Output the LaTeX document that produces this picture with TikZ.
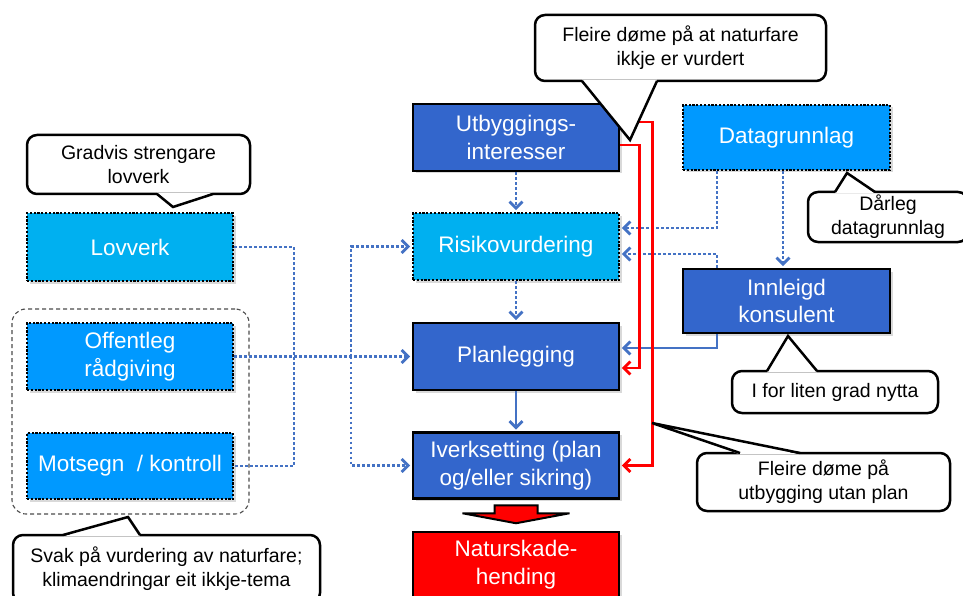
\documentclass[tikz,border=0pt]{standalone}
\usepackage{fontspec}
\setmainfont{Liberation Sans}
\usetikzlibrary{arrows.meta,shadows,calc}
\definecolor{dkblue}{HTML}{3366CC}
\definecolor{ltblue}{HTML}{00B0F0}
\definecolor{mdblue}{HTML}{0099FF}
\definecolor{conblue}{HTML}{4472C4}
\begin{document}
\begin{tikzpicture}[x=1pt,y=-1pt,
  box/.style={minimum width=206pt, minimum height=66pt, inner sep=2pt, text=white, align=center,
    font=\fontsize{22.5}{27.5}\selectfont,
    drop shadow={shadow xshift=2.5pt,shadow yshift=-2.5pt,opacity=0.3}},
  solidbox/.style={box, draw=black, line width=2.8pt},
  dotbox/.style={box, draw=black, line width=2.8pt, dash pattern=on 2.2pt off 1.6pt},
  call/.style={draw=black, fill=white, line width=2.5pt, rounded corners=10pt, align=center,
    font=\fontsize{19.5}{24}\selectfont, inner sep=2pt},
  ptrfill/.style={fill=white},
  ptrline/.style={draw=black, line width=2.5pt, line join=miter},
  con/.style={draw=conblue, line width=2.8pt, shorten >=1.5pt, -{Straight Barb[length=6.5pt,width=13pt]}},
  dotline/.style={draw=conblue, line width=2.8pt, dash pattern=on 2.5pt off 2.5pt},
  dotcon/.style={con, dash pattern=on 2.5pt off 2.5pt},
  redcon/.style={draw=red, line width=2.8pt, shorten >=1.5pt, -{Straight Barb[length=6.5pt,width=13pt]}},
  blockarrow/.style={draw=black, fill=red, line width=2pt, line join=miter}
]
\useasboundingbox (0,0) rectangle (963,596);

% group
\node[draw=black!70, line width=1.1pt, dash pattern=on 4pt off 3pt, rounded corners=14pt,
  minimum width=237pt, minimum height=205pt] (grp) at (130.5,411.5) {};

% boxes
\node[solidbox, fill=dkblue, minimum height=67pt] (ut) at (516,137.5) {Utbyggings-\\interesser};
\node[dotbox, fill=ltblue, minimum height=67pt] (risk) at (516,246.5) {Risikovurdering};
\node[solidbox, fill=dkblue, minimum height=67pt] (plan) at (516,356.5) {Planlegging};
\node[solidbox, fill=dkblue] (iver) at (516,465.5) {Iverksetting (plan\\og/eller sikring)};
\node[solidbox, fill=red, minimum height=65pt] (nat) at (516,564.5) {Naturskade-\\hending};
\node[dotbox, fill=mdblue, minimum width=207pt, minimum height=65pt] (data) at (786.5,137.5) {Datagrunnlag};
\node[solidbox, fill=dkblue, minimum width=207pt, minimum height=64pt] (inn) at (786.5,301) {Innleigd\\konsulent};
\node[dotbox, fill=ltblue, minimum height=68pt] (lov) at (130,247) {Lovverk};
\node[dotbox, fill=mdblue, minimum height=67pt] (off) at (130,356.5) {Offentleg\\rådgiving};
\node[dotbox, fill=mdblue] (mot) at (130,466) {Motsegn \ / kontroll};

% connectors
\draw[dotcon] (ut.south) -- (risk.north);
\draw[dotcon] (risk.south) -- (plan.north);
\draw[con] (plan.south) -- (iver.north);

\path (iver.south) -- (nat.north) coordinate[pos=0.5] (mid);
\begin{scope}[shift={(mid)}]
\draw[blockarrow] (-21.5,-10) -- (21.5,-10) -- (21.5,-2) -- (53.5,-2) -- (0,8) -- (-53.5,-2) -- (-21.5,-2) -- cycle;
\end{scope}

\coordinate (busA) at (294,356.5);
\coordinate (busB) at (351,356.5);
\draw[dotline] (lov.east) -| (busA) |- (mot.east);
\draw[dotcon] (off.east) -- (plan.west);
\draw[dotcon] (busB) |- (risk.west);
\draw[dotcon] (busB) |- (iver.west);

\draw[dotcon] ([xshift=-69.5pt]data.south) |- ([yshift=18.5pt]risk.east);
\draw[dotcon] ([xshift=-3.5pt]data.south) -- ([xshift=-3.5pt]inn.north);
\draw[dotcon] ([xshift=-69.5pt]inn.north) |- ([yshift=-7.5pt]risk.east);
\draw[con] ([xshift=-69.5pt]inn.south) |- ([yshift=8.5pt]plan.east);

\draw[redcon] ([yshift=-7.5pt]ut.east) -- ++(19,0) |- ([yshift=-11.5pt]plan.east);
\draw[redcon] ([yshift=15.5pt]ut.east) -- ++(32,0) |- (iver.east);

% callouts
\node[call, minimum width=291pt, minimum height=66pt] (c1) at (680.5,48) {Fleire døme på at naturfare\\ikkje er vurdert};
\fill[ptrfill] (582,79.6) -- (630,140) -- (657,79.6) -- cycle;
\draw[ptrline] (582,81) -- (630,140) -- (657,81);

\node[call, minimum width=223pt, minimum height=59pt] (c2) at (138.5,164.5) {Gradvis strengare\\lovverk};
\fill[ptrfill] (157,192.6) -- (173,207) -- (213,192.6) -- cycle;
\draw[ptrline] (157,194) -- (173,207) -- (213,194);

\node[call, minimum width=160pt, minimum height=50pt] (c3) at (888,217) {Dårleg\\datagrunnlag};
\fill[ptrfill] (835,193.4) -- (847,173) -- (875,193.4) -- cycle;
\draw[ptrline] (835,192) -- (847,173) -- (875,192);

\node[call, minimum width=206pt, minimum height=42pt] (c4) at (835,392) {I for liten grad nytta};
\fill[ptrfill] (767,372.4) -- (788,336) -- (817,372.4) -- cycle;
\draw[ptrline] (767,371) -- (788,336) -- (817,371);

\node[call, minimum width=253pt, minimum height=58pt] (c5) at (823.5,482) {Fleire døme på\\utbygging utan plan};
\fill[ptrfill] (740,454.4) -- (652,423) -- (800,454.4) -- cycle;
\draw[ptrline] (740,453) -- (652,423) -- (800,453);

\node[call, minimum width=307pt, minimum height=68pt] (c6) at (166.5,569) {Svak på vurdering av naturfare;\\klimaendringar eit ikkje-tema};
\fill[ptrfill] (63,536.4) -- (128,517) -- (140,536.4) -- cycle;
\draw[ptrline] (63,535) -- (128,517) -- (140,535);
\end{tikzpicture}
\end{document}
